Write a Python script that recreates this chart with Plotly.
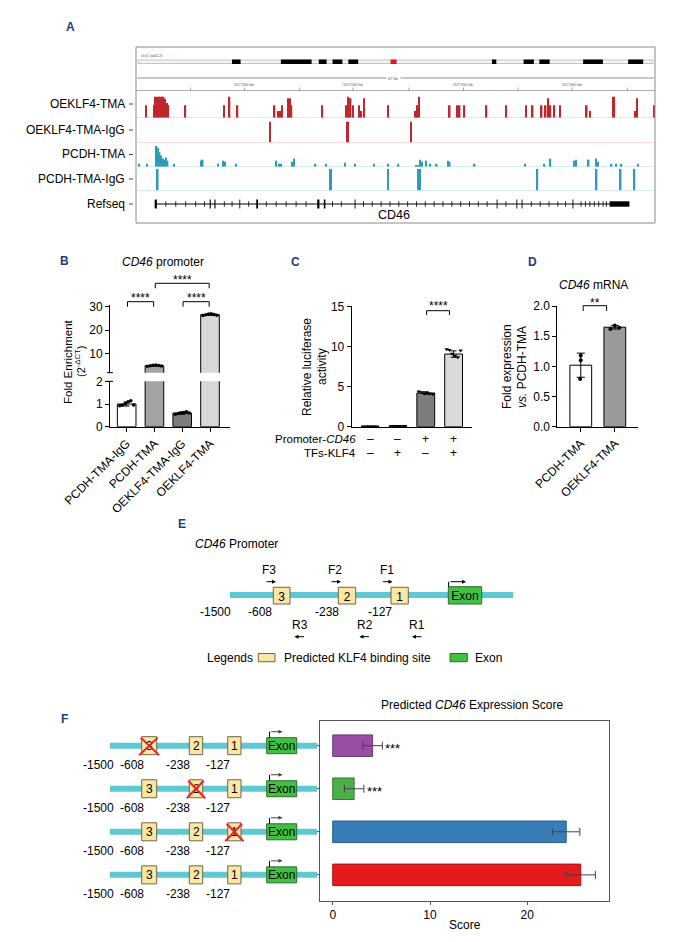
import plotly.graph_objects as go

# The page body keeps an 8 px margin, so the figure is 16 px smaller than the window
# and every layout position below is given in window pixels (offset 8).
OFF = 8
W, H = 686 - 2 * OFF, 942 - 2 * OFF
def X(p): return (p - OFF) / W
def Y(p): return 1 - (p - OFF) / H

FONT = "Liberation Sans, Arial, sans-serif"
RED = "#c0272d"
CYAN = "#2b9cb9"
NAVY = "#1f3d7a"
SEQ = "#5ec8d3"
YEL = "#fbe7a1"
GRN = "#3fc23f"

# ------------------------------------------------------------------ data
# Panel A (positions in kb inside the 47 kb window, heights relative to track max)
oe_kb = [0.89, 1.64, 1.79, 1.93, 2.07, 2.22, 2.36, 2.50, 2.64, 2.79, 2.93, 4.47, 7.97, 8.47, 9.19,
         12.55, 12.87, 13.05, 13.22, 13.76, 13.94, 14.08, 16.87, 19.01, 19.23, 19.44, 19.66, 20.19,
         20.41, 20.66, 22.80, 25.31, 25.48, 25.63, 28.41, 29.06, 29.31, 29.74, 31.74, 33.49, 35.31,
         35.92, 36.74, 37.10, 37.35, 37.53, 37.89, 38.42, 40.82, 41.10, 43.18, 43.32, 45.21, 45.39, 46.9]
oe_h = [0.59, 0.6, 1.0, 1.0, 1.0, 1.0, 1.0, 1.0, 0.9, 0.7, 0.6, 0.59, 0.59, 1.0, 0.59,
        0.59, 0.32, 0.32, 0.59, 0.92, 0.92, 0.59, 0.59, 0.59, 1.0, 0.92, 0.59, 0.59,
        0.32, 0.92, 0.59, 0.32, 0.59, 1.0, 0.59, 0.59, 0.59, 0.59, 0.59, 0.59, 0.59,
        0.59, 0.59, 0.59, 0.92, 0.59, 0.59, 0.59, 0.59, 0.32, 1.0, 1.0, 0.32, 0.92, 0.59]
oe_igg_kb = [12.15, 19.09, 19.19, 24.91]
oe_igg_h = [1.0, 1.0, 1.0, 1.0]
pc_kb = [0.29, 1.00, 1.86, 2.00, 2.14, 2.29, 2.43, 2.57, 2.72, 2.86, 3.47, 5.90, 6.04, 7.43, 7.93,
         8.04, 9.04, 12.72, 12.94, 13.15, 14.12, 14.30, 16.26, 17.23, 18.94, 19.84, 21.55, 22.80,
         23.77, 25.38, 25.55, 25.73, 25.91, 26.27, 26.63, 27.23, 28.24, 28.41, 30.67, 35.21, 36.99,
         37.53, 39.67, 39.85, 40.99, 41.64, 41.82, 43.07, 43.50, 43.96, 45.46]
pc_h = [0.15, 0.15, 1.0, 0.9, 0.7, 0.55, 0.4, 0.35, 0.45, 0.3, 0.15, 0.3, 0.35, 0.15, 0.3,
        0.25, 0.15, 0.3, 0.15, 0.15, 0.25, 0.4, 0.15, 0.15, 0.2, 0.15, 0.15, 0.15,
        0.15, 0.1, 0.1, 0.35, 0.25, 0.3, 0.15, 0.15, 0.3, 0.25, 0.15, 0.15, 0.15,
        0.4, 0.3, 0.35, 0.35, 0.4, 0.25, 0.15, 0.15, 0.15, 0.15]
pc_igg_kb = [1.97, 17.58, 17.68, 22.80, 25.55, 25.73, 36.35, 41.71, 43.89, 45.14]
pc_igg_h = [1.0, 1.0, 1.0, 1.0, 1.0, 1.0, 1.0, 1.0, 1.0, 1.0]
track_names = ["OEKLF4-TMA", "OEKLF4-TMA-IgG", "PCDH-TMA", "PCDH-TMA-IgG", "Refseq"]
gene_name = "CD46"
gene_span_kb = [1.79, 44.68]
exon_kb = [1.79, 6.72, 7.15, 9.40, 10.97, 16.51, 17.08, 19.84, 32.70, 34.49, 34.96, 39.57]
exon_w_kb = [0.2, 0.1, 0.1, 0.08, 0.16, 0.2, 0.14, 0.08, 0.08, 0.08, 0.08, 0.08]
utr_kb = [42.89, 44.68]
intron_marks_kb = [2.7, 3.6, 4.5, 5.4, 6.2, 8.0, 8.7, 10.2, 11.8, 12.7, 13.6, 14.5, 15.4, 17.8,
                   18.6, 20.6, 21.4, 22.2, 23.0, 23.8, 24.6, 25.4, 26.2, 27.0, 27.8, 28.6, 29.4,
                   30.2, 31.0, 31.8, 33.5, 35.8, 36.6, 37.4, 38.2, 38.9, 40.3, 40.7, 41.1, 41.5,
                   41.9, 42.3, 42.6]
ideo_start_kb = [8.69, 13.12, 16.55, 17.80, 19.23, 32.24, 35.10, 36.53, 40.49, 44.57]
ideo_end_kb = [9.47, 15.90, 17.26, 18.69, 20.12, 32.63, 36.03, 37.46, 42.28, 45.93]
ruler_ticks_kb = [4.93, 9.83, 14.83, 19.66, 24.73, 29.66, 34.60, 39.49, 44.50]
ruler_label_kb = [9.83, 19.66, 29.66, 39.49]
ruler_labels = ["207,930 kb", "207,940 kb", "207,950 kb", "207,960 kb"]
window_label = "47 kb"

# Panel B
b_groups = ["PCDH-TMA-IgG", "PCDH-TMA", "OEKLF4-TMA-IgG", "OEKLF4-TMA"]
b_means = [1.0, 5.0, 0.6, 26.6]
b_sd = [0.09, 0.25, 0.05, 0.3]
b_points = [[0.92, 0.95, 1.02, 1.10, 1.14, 0.96],
            [4.75, 4.95, 5.15, 5.25, 5.0, 4.85],
            [0.55, 0.58, 0.60, 0.63, 0.66, 0.60],
            [26.3, 26.6, 26.9, 27.0, 26.7, 26.4]]
b_colors = ["#ffffff", "#a3a3a3", "#7d7d7d", "#d7d7d7"]
b_sig = [(0, 1, "****"), (2, 3, "****"), (1, 3, "****")]

# Panel C
c_promoter = ["–", "–", "+", "+"]
c_tfs = ["–", "+", "–", "+"]
c_means = [0.03, 0.08, 4.2, 9.05]
c_sd = [0.02, 0.03, 0.15, 0.4]
c_points = [[0.02, 0.03, 0.02, 0.04, 0.03, 0.02],
            [0.06, 0.08, 0.10, 0.09, 0.07, 0.08],
            [4.40, 4.30, 4.15, 4.20, 4.10, 4.05],
            [9.65, 9.55, 9.10, 8.85, 8.65, 9.50]]
c_colors = ["#ffffff", "#ffffff", "#7d7d7d", "#d9d9d9"]

# Panel D
d_groups = ["PCDH-TMA", "OEKLF4-TMA"]
d_means = [1.02, 1.65]
d_sd = [0.20, 0.03]
d_points = [[1.18, 1.10, 0.79], [1.62, 1.68, 1.64]]
d_colors = ["#ffffff", "#9a9a9a"]

# Panel E / F
site_labels = ["3", "2", "1"]
site_positions = ["-1500", "-608", "-238", "-127"]
f_constructs = ["mutSite3", "mutSite2", "mutSite1", "WT"]
f_rows = [4, 3, 2, 1]
f_mutated = ["3", "2", "1", ""]
f_scores = [4.1, 2.2, 24.0, 25.5]
f_err = [1.0, 1.0, 1.4, 1.5]
f_sig = ["***", "***", "", ""]
f_colors = ["#984ea3", "#4daf4a", "#377eb8", "#e41a1c"]
f_edges = ["#6b3a73", "#357a33", "#27598a", "#a81214"]

# ------------------------------------------------------------------ figure
fig = go.Figure()
shapes, annotations = [], []

def txt(x, y, s, size=12, xanchor="center", yanchor="middle", color="black", **kw):
    annotations.append(dict(x=X(x), y=Y(y), xref="paper", yref="paper", text=s, showarrow=False,
                            xanchor=xanchor, yanchor=yanchor,
                            font=dict(size=size, color=color, family=FONT), **kw))

def vtxt(x, y, s, size=12):
    annotations.append(dict(x=X(x), y=Y(y), xref="paper", yref="paper", text=s, showarrow=False,
                            xanchor="center", yanchor="middle",
                            textangle=-90, font=dict(size=size, family=FONT, color="black")))

def pline(x0, y0, x1, y1, color="black", width=1):
    shapes.append(dict(type="line", xref="paper", yref="paper", x0=X(x0), y0=Y(y0), x1=X(x1), y1=Y(y1),
                       line=dict(color=color, width=width)))

def prect(x0, y0, x1, y1, fill, line="#555555", width=1, label=None, size=12):
    d = dict(type="rect", xref="paper", yref="paper", x0=X(x0), y0=Y(y0), x1=X(x1), y1=Y(y1),
             fillcolor=fill, line=dict(color=line, width=width))
    if label is not None:
        d["label"] = dict(text=label, font=dict(size=size, family=FONT, color="black"),
                          textposition="middle center")
    shapes.append(d)

def arrow(xh, yh, dx, color="black"):
    annotations.append(dict(x=X(xh), y=Y(yh), xref="paper", yref="paper", text="", showarrow=True,
                            ax=dx, ay=0, arrowhead=2, arrowsize=0.8, arrowwidth=1, arrowcolor=color))

# panel letters
for lab, px, py in [("A", 70, 27), ("B", 64, 261), ("C", 295, 262), ("D", 532, 262), ("E", 182, 524), ("F", 64, 719)]:
    txt(px, py, "<b>%s</b>" % lab, 12, color=NAVY)

# ---------------- Panel A (genome browser)
prect(136, 47, 655, 223, "rgba(0,0,0,0)", line="#8a8a8a")
prect(138, 60, 653, 63.5, "#f4f4f4", line="#a0a0a0", width=0.6)
for s, e in zip(ideo_start_kb, ideo_end_kb):
    shapes.append(dict(type="rect", xref="x", yref="paper", x0=s, x1=e, y0=Y(59.5), y1=Y(64),
                       fillcolor="black", line=dict(width=0)))
shapes.append(dict(type="rect", xref="x", yref="paper", x0=23.05, x1=23.6, y0=Y(59.5), y1=Y(64),
                   fillcolor="#d02020", line=dict(width=0)))
txt(139, 55, "chr1 (q32.2)", 4, xanchor="left", color="#555")
pline(137, 78, 654, 78, "#777", 0.8)
txt(393, 78, window_label, 4, color="#555", bgcolor="white")
pline(136, 90.5, 655, 90.5, "#999", 0.8)
for t in ruler_ticks_kb:
    shapes.append(dict(type="line", xref="x", yref="paper", x0=t, x1=t, y0=Y(90.5), y1=Y(87.5),
                       line=dict(color="#888", width=0.8)))
for t, s in zip(ruler_label_kb, ruler_labels):
    annotations.append(dict(x=t, y=Y(84), xref="x", yref="paper", text=s, showarrow=False,
                            xanchor="center", yanchor="middle",
                            font=dict(size=4, color="#555", family=FONT)))

track_axes = ["y", "y2", "y3", "y4"]
track_data = [(oe_kb, oe_h, RED, "#f2b9c0"), (oe_igg_kb, oe_igg_h, RED, "#f2b9c0"),
              (pc_kb, pc_h, CYAN, "#a9dbe3"), (pc_igg_kb, pc_igg_h, CYAN, "#a9dbe3")]
for ax, (xs, hs, col, base) in zip(track_axes, track_data):
    fig.add_trace(go.Bar(x=xs, y=hs, width=0.14, marker=dict(color=col, line=dict(width=0)),
                         xaxis="x", yaxis=ax, hoverinfo="skip"))
    shapes.append(dict(type="line", xref="x", yref=ax, x0=0, x1=47, y0=0, y1=0,
                       line=dict(color=base, width=1.2)))

fig.add_trace(go.Scatter(x=gene_span_kb, y=[0, 0], mode="lines", line=dict(color="black", width=1),
                         xaxis="x", yaxis="y5", hoverinfo="skip"))
fig.add_trace(go.Scatter(x=intron_marks_kb, y=[0] * len(intron_marks_kb), mode="markers",
                         marker=dict(symbol="line-ns", size=4, line=dict(color="black", width=0.8)),
                         xaxis="x", yaxis="y5", hoverinfo="skip"))
for c, w in zip(exon_kb, exon_w_kb):
    shapes.append(dict(type="rect", xref="x", yref="y5", x0=c - w / 2, x1=c + w / 2, y0=-0.75, y1=0.75,
                       fillcolor="black", line=dict(width=0)))
shapes.append(dict(type="rect", xref="x", yref="y5", x0=utr_kb[0], x1=utr_kb[1], y0=-0.45, y1=0.45,
                   fillcolor="black", line=dict(width=0)))

for name, py in zip(track_names, [104, 130, 154.5, 179, 204]):
    txt(127, py, name, 12, xanchor="right")
    pline(129, py, 133, py, "#444", 1)
txt(394, 214.5, gene_name, 12.5)

# ---------------- Panel B
bx = list(range(len(b_groups)))
offs6 = [-0.25, -0.15, -0.05, 0.05, 0.15, 0.25]
pts_x = [i + o for i in bx for o in offs6]
pts_y = [v for pts in b_points for v in pts]
for ya in ["y6", "y7"]:
    fig.add_trace(go.Bar(x=bx, y=b_means, width=0.67,
                         marker=dict(color=b_colors, line=dict(color="black", width=1)),
                         error_y=dict(type="data", array=b_sd, color="black", thickness=1, width=3),
                         xaxis="x2", yaxis=ya, hoverinfo="skip"))
    fig.add_trace(go.Scatter(x=pts_x, y=pts_y, mode="markers",
                             marker=dict(color="black", size=3.5), xaxis="x2", yaxis=ya, hoverinfo="skip"))
txt(163, 262, "<i>CD46</i> promoter", 12)
vtxt(68, 362, "Fold Enrichment", 11.5)
vtxt(80, 362, "(2<sup>-ΔCT</sup>)", 11)
for (a, b, s), top in zip(b_sig, [301.7, 301.7, 283.3]):
    shapes.append(dict(type="path", xref="x2", yref="paper",
                       path="M %f,%f L %f,%f L %f,%f L %f,%f" % (a + 0.03, Y(top + 5), a + 0.03, Y(top),
                                                                b - 0.03, Y(top), b - 0.03, Y(top + 5)),
                       line=dict(color="black", width=1)))
    annotations.append(dict(x=(a + b) / 2, y=Y(top - 3.5), xref="x2", yref="paper", text=s, showarrow=False,
                            xanchor="center", yanchor="middle", font=dict(size=12, family=FONT)))
pline(107, 372.7, 113, 372.7)
pline(107, 381.3, 113, 381.3)

# ---------------- Panel C
cx = list(range(len(c_means)))
fig.add_trace(go.Bar(x=cx, y=c_means, width=0.64,
                     marker=dict(color=c_colors, line=dict(color="black", width=1)),
                     error_y=dict(type="data", array=c_sd, color="black", thickness=1, width=3),
                     xaxis="x3", yaxis="y8", hoverinfo="skip"))
fig.add_trace(go.Scatter(x=[i + o for i in cx for o in offs6], y=[v for p in c_points for v in p],
                         mode="markers", marker=dict(color="black", size=4, symbol="triangle-down"),
                         xaxis="x3", yaxis="y8", hoverinfo="skip"))
vtxt(307, 367, "Relative luciferase", 12)
vtxt(322, 367, "activity", 12)
shapes.append(dict(type="path", xref="x3", yref="paper",
                   path="M 2.03,%f L 2.03,%f L 2.85,%f L 2.85,%f" % (Y(315), Y(310.7), Y(310.7), Y(315)),
                   line=dict(color="black", width=1)))
annotations.append(dict(x=2.44, y=Y(306.5), xref="x3", yref="paper", text="****", showarrow=False,
                        xanchor="center", yanchor="middle", font=dict(size=12, family=FONT)))
txt(358, 439.3, "Promoter-<i>CD46</i>", 11.5, xanchor="right")
txt(358, 453.3, "TFs-KLF4", 11.5, xanchor="right")
for i, (p, t) in enumerate(zip(c_promoter, c_tfs)):
    annotations.append(dict(x=i, y=Y(439.3), xref="x3", yref="paper", text=p, showarrow=False,
                            xanchor="center", yanchor="middle", font=dict(size=12, family=FONT)))
    annotations.append(dict(x=i, y=Y(453.3), xref="x3", yref="paper", text=t, showarrow=False,
                            xanchor="center", yanchor="middle", font=dict(size=12, family=FONT)))

# ---------------- Panel D
dx = [0, 1]
offs3 = [[0, 0, -0.02], [-0.13, 0.0, 0.13]]
fig.add_trace(go.Bar(x=dx, y=d_means, width=0.64,
                     marker=dict(color=d_colors, line=dict(color="black", width=1)),
                     error_y=dict(type="data", array=d_sd, color="black", thickness=1, width=4),
                     xaxis="x4", yaxis="y9", hoverinfo="skip"))
fig.add_trace(go.Scatter(x=[i + o for i in dx for o in offs3[i]], y=[v for p in d_points for v in p],
                         mode="markers", marker=dict(color="black", size=4), xaxis="x4", yaxis="y9",
                         hoverinfo="skip"))
txt(593, 285, "<i>CD46</i> mRNA", 12)
vtxt(507, 367, "Fold expression", 12)
vtxt(522, 367, "<i>vs.</i> PCDH-TMA", 12)
shapes.append(dict(type="path", xref="x4", yref="paper",
                   path="M 0.07,%f L 0.07,%f L 0.76,%f L 0.76,%f" % (Y(311), Y(305.7), Y(305.7), Y(311)),
                   line=dict(color="black", width=1)))
annotations.append(dict(x=0.415, y=Y(303.5), xref="x4", yref="paper", text="**", showarrow=False,
                        xanchor="center", yanchor="middle", font=dict(size=12, family=FONT)))

# ---------------- Panel E (schematic)
txt(193, 544, "<i>CD46</i> Promoter", 12, xanchor="left")
prect(230, 592, 513.3, 598, SEQ, line=SEQ, width=0)
for lab, (x0, x1) in zip(site_labels, [(273.3, 290), (338.3, 355.7), (391, 408.3)]):
    prect(x0, 587.3, x1, 604, YEL, line="#6e6550", label=lab)
prect(448.3, 586.7, 481.7, 604, GRN, line="#2d6b2d", label="Exon")
pline(448.6, 586.7, 448.6, 581.7, "black", 1)
arrow(466, 581.7, -17)
for lab, cxp, xh in zip(["F3", "F2", "F1"], [269.3, 335, 386.7], [276, 341, 392.5]):
    txt(cxp, 570, lab, 12)
    arrow(xh, 581.7, -11)
for lab, cxp, xh in zip(["R3", "R2", "R1"], [300, 365, 417.3], [294.5, 359.5, 412]):
    txt(cxp, 625, lab, 12)
    arrow(xh, 636.7, 11)
for lab, cxp in zip(site_positions, [215, 260, 326.7, 380]):
    txt(cxp, 611.7, lab, 12)
txt(205, 657.7, "Legends", 12, xanchor="left")
prect(258.3, 653.5, 275, 661.7, YEL, line="#6e6550")
txt(281.7, 657.7, "Predicted KLF4 binding site", 12, xanchor="left")
prect(450, 653.5, 467.3, 661.7, GRN, line="#2d6b2d")
txt(473.3, 657.7, "Exon", 12, xanchor="left")

# ---------------- Panel F schematic (rows tied to the bar-chart category axis)
site_x = {"3": (141.7, 156.7), "2": (189.3, 202.7), "1": (227.7, 241.0)}
for row, mut in zip(f_rows, f_mutated):
    base = dict(xref="paper", yref="y10", ysizemode="pixel", yanchor=row)
    shapes.append(dict(type="rect", x0=X(110), x1=X(317), y0=-3, y1=3, fillcolor=SEQ,
                       line=dict(width=0), **base))
    for lab in site_labels:
        x0, x1 = site_x[lab]
        shapes.append(dict(type="rect", x0=X(x0), x1=X(x1), y0=-9, y1=9, fillcolor=YEL,
                           line=dict(color="#6e6550", width=1), **base))
        annotations.append(dict(x=X((x0 + x1) / 2), y=row, xref="paper", yref="y10", text=lab,
                                showarrow=False, xanchor="center", yanchor="middle",
                                font=dict(size=12, family=FONT)))
    shapes.append(dict(type="rect", x0=X(266.7), x1=X(296.7), y0=-8, y1=8, fillcolor=GRN,
                       line=dict(color="#2d6b2d", width=1), **base))
    annotations.append(dict(x=X(281.7), y=row, xref="paper", yref="y10", text="Exon",
                            showarrow=False, xanchor="center", yanchor="middle",
                            font=dict(size=12, family=FONT)))
    shapes.append(dict(type="line", x0=X(269.5), x1=X(269.5), y0=8, y1=14,
                       line=dict(color="black", width=1), **base))
    annotations.append(dict(x=X(282.5), y=row, xref="paper", yref="y10", yshift=14, text="",
                            showarrow=True, ax=-13, ay=0, arrowhead=2, arrowsize=0.8, arrowwidth=1))
    if mut:
        x0, x1 = site_x[mut]
        wpx = (x1 - x0) + 5
        for hx, sx in [(x1 + 2.5, -wpx), (x0 - 2.5, wpx)]:
            annotations.append(dict(x=X(hx), y=row, xref="paper", yref="y10", yshift=-9.5, text="",
                                    showarrow=True, ax=sx, ay=-19, arrowhead=0, arrowwidth=2,
                                    arrowcolor="#e3262b", standoff=0, startstandoff=0))
    for lab, cxp in zip(site_positions, [98.3, 131.7, 178.3, 218.3]):
        annotations.append(dict(x=X(cxp), y=row, xref="paper", yref="y10", yshift=-19, text=lab,
                                showarrow=False, xanchor="center", yanchor="middle",
                                font=dict(size=12, family=FONT)))

# ---------------- Panel F bar chart
fig.add_trace(go.Bar(x=f_scores, y=f_rows, orientation="h", width=0.5,
                     marker=dict(color=f_colors, line=dict(color=f_edges, width=1)),
                     error_x=dict(type="data", array=f_err, color="#444", thickness=1, width=4),
                     xaxis="x5", yaxis="y10", hoverinfo="skip"))
for s, e, r, sig in zip(f_scores, f_err, f_rows, f_sig):
    if sig:
        annotations.append(dict(x=s + e + 0.1, y=r, xref="x5", yref="y10", text=sig, showarrow=False,
                                xanchor="left", yanchor="middle", yshift=-3,
                                font=dict(size=13, family=FONT)))
txt(472, 705, "Predicted <i>CD46</i> Expression Score", 12)
txt(465, 925, "Score", 12)

# ------------------------------------------------------------------ layout
hidden = dict(visible=False, showgrid=False, zeroline=False, fixedrange=True, automargin=False)
def yax(d0, d1, rng, anchor, **kw):
    a = dict(domain=[Y(d0), Y(d1)], range=rng, anchor=anchor, showgrid=False, zeroline=False,
             showline=True, linecolor="black", linewidth=1, ticks="outside", ticklen=4,
             tickcolor="black", automargin=False, tickfont=dict(size=12, family=FONT, color="black"))
    a.update(kw)
    return a

layout = dict(
    template="none",
    width=W, height=H, autosize=False, margin=dict(l=0, r=0, t=0, b=0, pad=0), paper_bgcolor="white",
    plot_bgcolor="rgba(0,0,0,0)", showlegend=False, barmode="overlay",
    font=dict(family=FONT, size=12, color="black"),
    xaxis=dict(domain=[X(136), X(655)], range=[0, 47], anchor="y", **hidden),
    yaxis=dict(domain=[Y(118), Y(96.5)], range=[0, 1], anchor="x", **hidden),
    yaxis2=dict(domain=[Y(142.5), Y(121.5)], range=[0, 1], anchor="x", **hidden),
    yaxis3=dict(domain=[Y(167), Y(146)], range=[0, 1], anchor="x", **hidden),
    yaxis4=dict(domain=[Y(190.5), Y(169)], range=[0, 1], anchor="x", **hidden),
    yaxis5=dict(domain=[Y(210), Y(198)], range=[-1, 1], anchor="x", **hidden),
    xaxis2=dict(domain=[X(110), X(230)], range=[-0.6, 3.72], anchor="y6", showgrid=False, zeroline=False,
                showline=True, linecolor="black", ticks="outside", ticklen=4, tickcolor="black",
                tickvals=bx, ticktext=b_groups, tickangle=-45, automargin=False,
                tickfont=dict(size=12, family=FONT, color="black")),
    yaxis6=yax(426.7, 381.3, [0, 2], "x2", tickvals=[0, 1, 2]),
    yaxis7=yax(372.7, 305, [2, 30.7], "x2", tickvals=[10, 20, 30]),
    xaxis3=dict(domain=[X(351.7), X(472)], range=[-0.66, 3.66], anchor="y8", showgrid=False, zeroline=False,
                showline=True, linecolor="black", showticklabels=False, ticks="", automargin=False),
    yaxis8=yax(426.7, 305.5, [0, 15.1], "x3", tickvals=[0, 5, 10, 15]),
    xaxis4=dict(domain=[X(557.3), X(638.3)], range=[-0.69, 1.69], anchor="y9", showgrid=False, zeroline=False,
                showline=True, linecolor="black", ticks="outside", ticklen=4, tickcolor="black",
                tickvals=dx, ticktext=d_groups, tickangle=-45, automargin=False,
                tickfont=dict(size=12, family=FONT, color="black")),
    yaxis9=yax(426.7, 305.5, [0, 2.01], "x4", tickvals=[0, 0.5, 1, 1.5, 2],
               ticktext=["0.0", "0.5", "1.0", "1.5", "2.0"]),
    xaxis5=dict(domain=[X(319.5), X(609.3)], range=[-1.36, 28.43], anchor="y10", showgrid=False,
                zeroline=False, showline=True, mirror=True, linecolor="#555", linewidth=1,
                ticks="outside", ticklen=3, tickcolor="#555", tickvals=[0, 10, 20], automargin=False,
                tickfont=dict(size=12, family=FONT, color="black")),
    yaxis10=dict(domain=[Y(900.7), Y(720.7)], range=[0.4, 4.58], anchor="x5", showgrid=False,
                 zeroline=False, showline=True, mirror=True, linecolor="#555", linewidth=1,
                 ticks="outside", ticklen=3, tickcolor="#555", tickvals=f_rows, showticklabels=False,
                 automargin=False),
    shapes=shapes, annotations=annotations,
)
fig.update_layout(**layout)
fig.write_html("out.html")
